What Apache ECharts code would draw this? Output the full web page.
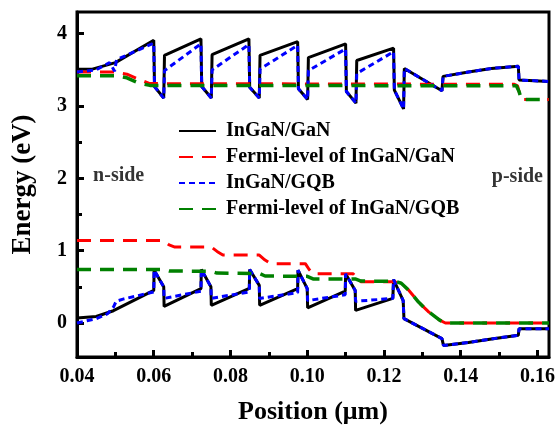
<!DOCTYPE html>
<html>
<head>
<meta charset="utf-8">
<script src="https://cdn.jsdelivr.net/npm/echarts@6/dist/echarts.min.js"></script>
<style>
  html, body { margin: 0; padding: 0; background: #fff; }
  #chart { width: 558px; height: 436px; }
</style>
</head>
<body>
<div id="chart"></div>
<script>
// band edges, [position (um), energy (eV)]
var cbGaN = [[0.04,3.51],[0.044,3.51],[0.05,3.6],[0.06,3.91],
  [0.0602,3.27],[0.0626,3.11],[0.0628,3.70],[0.0723,3.93],
  [0.0725,3.27],[0.0750,3.11],[0.0752,3.71],[0.0848,3.93],
  [0.0850,3.26],[0.0875,3.11],[0.0877,3.70],[0.0975,3.89],
  [0.0977,3.24],[0.1001,3.09],[0.1003,3.67],[0.1100,3.86],
  [0.1102,3.20],[0.1127,3.04],[0.1129,3.63],[0.1225,3.80],
  [0.1227,3.22],[0.1251,2.96],[0.1253,3.52],[0.1351,3.21],
  [0.1354,3.41],[0.142,3.47],[0.148,3.52],[0.155,3.55],
  [0.1552,3.36],[0.163,3.34]];
var cbGQB = [[0.04,3.47],[0.045,3.5],[0.0485,3.6],[0.0498,3.48],[0.0503,3.64],[0.06,3.87],
  [0.0602,3.27],[0.0626,3.11],[0.0628,3.49],[0.0723,3.86],
  [0.0725,3.27],[0.0750,3.11],[0.0752,3.50],[0.0848,3.85],
  [0.0850,3.26],[0.0875,3.11],[0.0877,3.51],[0.0975,3.84],
  [0.0977,3.24],[0.1001,3.09],[0.1003,3.49],[0.1100,3.79],
  [0.1102,3.20],[0.1127,3.04],[0.1129,3.45],[0.1225,3.75],
  [0.1227,3.22],[0.1251,2.96],[0.1253,3.52],[0.1351,3.21],
  [0.1354,3.41],[0.142,3.47],[0.148,3.52],[0.155,3.55],
  [0.1552,3.36],[0.163,3.34]];
var vbGaN = [[0.04,0.07],[0.045,0.09],[0.0495,0.17],[0.06,0.45],
  [0.0601,0.73],[0.0626,0.50],[0.0627,0.23],[0.0723,0.475],
  [0.0724,0.74],[0.0749,0.50],[0.0750,0.245],[0.0849,0.48],
  [0.0850,0.74],[0.0875,0.52],[0.0876,0.245],[0.0975,0.475],
  [0.0976,0.73],[0.1000,0.475],[0.1001,0.21],[0.1099,0.44],
  [0.1100,0.68],[0.1125,0.45],[0.1126,0.175],[0.1223,0.34],
  [0.1225,0.60],[0.1250,0.31],[0.1252,0.06],[0.1351,-0.215],
  [0.1355,-0.31],[0.142,-0.27],[0.148,-0.22],[0.155,-0.17],
  [0.1552,-0.08],[0.163,-0.08]];
var vbGQB = [[0.04,0.0],[0.045,0.06],[0.048,0.13],[0.0495,0.22],[0.0502,0.30],[0.052,0.33],[0.06,0.43],
  [0.0601,0.73],[0.0626,0.50],[0.0627,0.34],[0.0723,0.44],
  [0.0724,0.74],[0.0749,0.50],[0.0750,0.34],[0.0849,0.43],
  [0.0850,0.74],[0.0875,0.52],[0.0876,0.34],[0.0975,0.42],
  [0.0976,0.73],[0.1000,0.475],[0.1001,0.31],[0.1099,0.39],
  [0.1100,0.68],[0.1125,0.45],[0.1126,0.30],[0.1223,0.34],
  [0.1225,0.60],[0.1250,0.31],[0.1252,0.06],[0.1351,-0.215],
  [0.1355,-0.31],[0.142,-0.27],[0.148,-0.22],[0.155,-0.17],
  [0.1552,-0.08],[0.163,-0.08]];

// quasi-Fermi levels
var efnGaN = [[0.04,3.47],[0.05,3.47],[0.053,3.44],[0.056,3.37],[0.059,3.31],[0.154,3.30],[0.1548,3.28],[0.1552,3.20],[0.1558,3.09],[0.163,3.09]];
var efpGaN = [[0.04,1.14],[0.0625,1.14],[0.064,1.08],[0.0655,1.05],[0.075,1.05],[0.0765,0.99],[0.078,0.94],
  [0.0875,0.94],[0.089,0.87],[0.0905,0.82],[0.0995,0.82],[0.1005,0.74],[0.1015,0.68],
  [0.112,0.68],[0.113,0.61],[0.114,0.57],[0.1225,0.57],[0.1245,0.55],[0.1265,0.45],
  [0.129,0.29],[0.1315,0.16],[0.1345,0.04],[0.136,0.0],[0.163,0.0]];
var efnGQB = [[0.04,3.42],[0.05,3.42],[0.053,3.39],[0.056,3.32],[0.059,3.285],[0.1545,3.28],[0.1552,3.20],[0.1558,3.09],[0.163,3.09]];
var efpGQB = [[0.04,0.74],[0.0625,0.74],[0.064,0.72],[0.075,0.715],[0.0765,0.69],[0.0875,0.685],[0.089,0.65],
  [0.1,0.645],[0.1015,0.61],[0.1125,0.61],[0.114,0.58],[0.123,0.575],[0.1245,0.55],[0.1265,0.45],
  [0.129,0.29],[0.1315,0.16],[0.1345,0.04],[0.136,0.0],[0.163,0.0]];

var xTicks = [0.04, 0.06, 0.08, 0.10, 0.12, 0.14, 0.16];
var xMinor = [0.05, 0.07, 0.09, 0.11, 0.13, 0.15];
var yTicks = [0, 1, 2, 3, 4];
var yMinor = [-0.5, 0.5, 1.5, 2.5, 3.5];
var sideLabels = [[0.0442, 2.03, 'n-side'], [0.1481, 2.02, 'p-side']];
var names = ['InGaN/GaN', 'Fermi-level of InGaN/GaN', 'InGaN/GQB', 'Fermi-level of InGaN/GQB'];

var font = 'Liberation Serif';
var xr = [0.04, 0.163], yr = [-0.47, 4.3];

function band(name, data, color, type, w) {
  return {
    name: name, type: 'line', data: data, symbol: 'none', silent: true,
    animation: false,
    lineStyle: { color: color, width: w, type: type },
    itemStyle: { color: color }
  };
}

var chart = echarts.init(document.getElementById('chart'));
chart.setOption({
  backgroundColor: '#fff',
  animation: false,
  grid: { left: 77, right: 9, top: 12, bottom: 79, show: true, borderColor: '#000', borderWidth: 3 },
  legend: {
    data: names, orient: 'vertical', left: 178, top: 121, padding: 0,
    itemWidth: 37, itemHeight: 14, itemGap: 6,
    itemStyle: { opacity: 0 },
    textStyle: { fontFamily: font, fontWeight: 'bold', fontSize: 20, color: '#000', lineHeight: 20, padding: [0, 0, 0, 5] }
  },
  xAxis: [{
    type: 'value', min: xr[0], max: xr[1], position: 'bottom',
    axisLine: { show: true, onZero: false, lineStyle: { color: '#000', width: 3 } },
    axisTick: { show: true, inside: true, length: 7, customValues: xTicks, lineStyle: { color: '#000', width: 3 } },
    axisLabel: { customValues: xTicks, margin: 10, formatter: function (v) { return v.toFixed(2); },
      fontFamily: font, fontWeight: 'bold', fontSize: 20, color: '#000' },
    splitLine: { show: false },
    name: 'Position (\u03bcm)', nameLocation: 'middle', nameGap: 42,
    nameTextStyle: { fontFamily: font, fontWeight: 'bold', fontSize: 26, color: '#000' }
  }, {
    type: 'value', min: xr[0], max: xr[1], position: 'bottom',
    axisLine: { show: false, onZero: false },
    axisTick: { show: true, inside: true, length: 5, customValues: xMinor, lineStyle: { color: '#000', width: 3 } },
    axisLabel: { show: false }, splitLine: { show: false }
  }],
  yAxis: [{
    type: 'value', min: yr[0], max: yr[1], position: 'left',
    axisLine: { show: true, onZero: false, lineStyle: { color: '#000', width: 3 } },
    axisTick: { show: true, inside: true, length: 7, customValues: yTicks, lineStyle: { color: '#000', width: 3 } },
    axisLabel: { customValues: yTicks, margin: 10,
      fontFamily: font, fontWeight: 'bold', fontSize: 20, color: '#000' },
    splitLine: { show: false },
    name: 'Energy (eV)', nameLocation: 'middle', nameGap: 40,
    nameTextStyle: { fontFamily: font, fontWeight: 'bold', fontSize: 27, color: '#000' }
  }, {
    type: 'value', min: yr[0], max: yr[1], position: 'left',
    axisLine: { show: false, onZero: false },
    axisTick: { show: true, inside: true, length: 5, customValues: yMinor, lineStyle: { color: '#000', width: 3 } },
    axisLabel: { show: false }, splitLine: { show: false }
  }],
  series: [
    band(names[0], cbGaN, '#000000', 'solid', 3),
    band(names[0], vbGaN, '#000000', 'solid', 3),
    band(names[1], efnGaN, '#ff0000', [14, 9], 3),
    band(names[1], efpGaN, '#ff0000', [14, 9], 3),
    band(names[2], cbGQB, '#0000ff', [6, 4], 3),
    band(names[2], vbGQB, '#0000ff', [6, 4], 3),
    band(names[3], efnGQB, '#008000', [14, 9], 3.5),
    band(names[3], efpGQB, '#008000', [14, 9], 3.5),
    {
      name: 'notes', type: 'scatter', data: sideLabels, symbolSize: 0, silent: true,
      label: { show: true, position: 'right', distance: 0, formatter: function (p) { return p.value[2]; },
        fontFamily: font, fontWeight: 'bold', fontSize: 20, color: '#000' }
    }
  ]
});
</script>
</body>
</html>
